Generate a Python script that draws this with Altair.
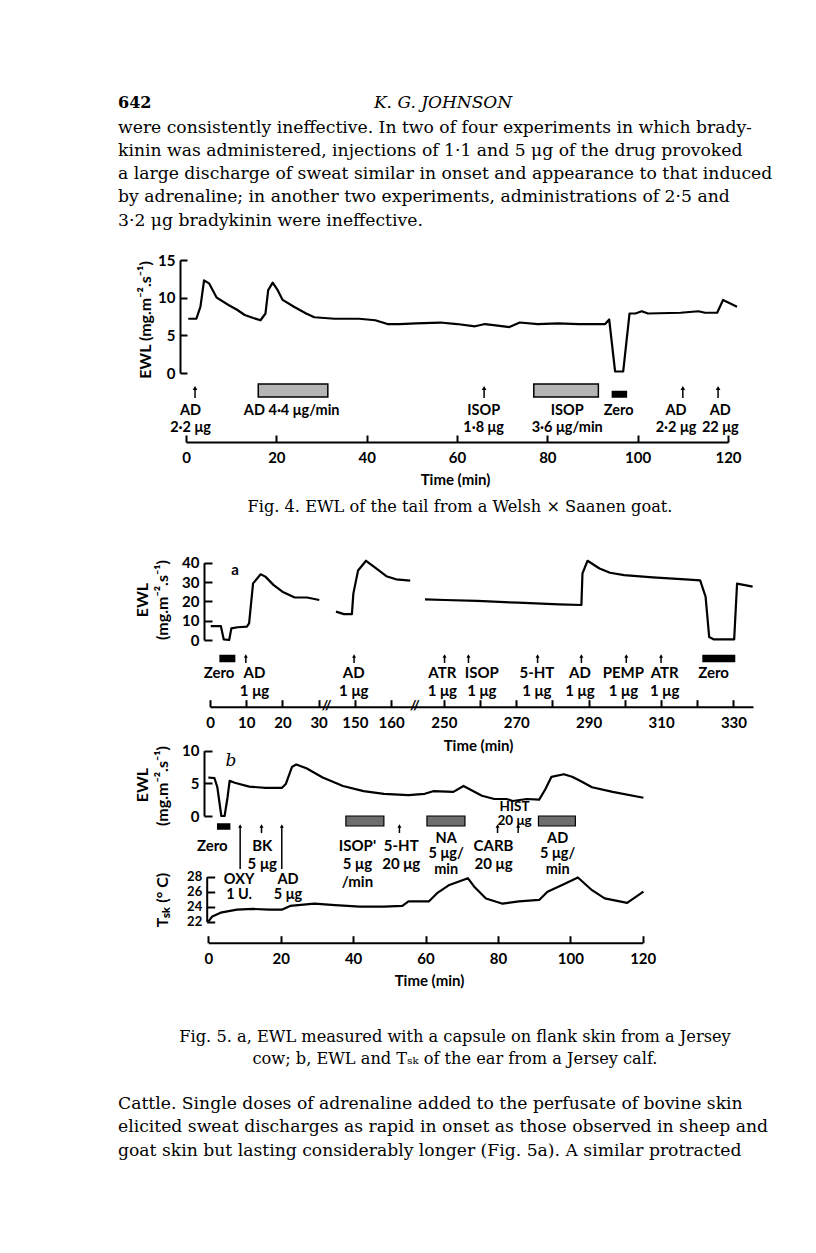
import altair as alt
import pandas as pd

# ---------------- text ----------------
page_number = "642"
running_head = "K. G. JOHNSON"
para_top = [
    "were consistently ineffective. In two of four experiments in which brady-",
    "kinin was administered, injections of 1·1 and 5 μg of the drug provoked",
    "a large discharge of sweat similar in onset and appearance to that induced",
    "by adrenaline; in another two experiments, administrations of 2·5 and",
    "3·2 μg bradykinin were ineffective.",
]
caption4 = ["Fig. 4. EWL of the tail from a Welsh × Saanen goat."]
caption5 = [
    "Fig. 5. a, EWL measured with a capsule on flank skin from a Jersey",
    "cow; b, EWL and Tₛₖ of the ear from a Jersey calf.",
]
para_bottom = [
    "\u2003Cattle. Single doses of adrenaline added to the perfusate of bovine skin",
    "elicited sweat discharges as rapid in onset as those observed in sheep and",
    "goat skin but lasting considerably longer (Fig. 5a). A similar protracted",
]

# ---------------- Fig. 4 data ----------------
f4_t = [0.5, 2.3, 3.2, 4.0, 5.1, 6.8, 9.5, 11.3, 13.0, 14.9, 16.5, 17.6, 18.2, 19.2,
        20.3, 21.4, 23.9, 26.6, 28.4, 32.9, 38.3, 41.9, 44.6, 47.3, 50.9, 56.3, 60.0,
        64.0, 66.2, 69.0, 71.6, 73.9, 77.9, 82.4, 86.9, 92.8, 93.7, 95.0, 96.8, 98.2,
        99.5, 100.9, 102.3, 109.5, 113.5, 114.9, 117.6, 118.9, 122.0]
f4_ewl = [7.2, 7.2, 8.8, 12.3, 11.9, 10.0, 9.0, 8.4, 7.7, 7.3, 7.0, 7.9, 11.0, 12.0,
          11.0, 9.7, 8.8, 7.9, 7.4, 7.2, 7.2, 7.0, 6.5, 6.5, 6.6, 6.7, 6.5,
          6.2, 6.5, 6.3, 6.1, 6.7, 6.5, 6.6, 6.5, 6.5, 7.1, 0.2, 0.2, 7.9,
          7.9, 8.2, 7.9, 8.0, 8.2, 8.0, 8.0, 9.7, 8.8]
f4_y_ticks = [0, 5, 10, 15]
f4_x_ticks = [0, 20, 40, 60, 80, 100, 120]
f4_arrow_t = [2.0, 66.0, 110.0, 117.8]
f4_label_t = [1.0, 23.4, 65.9, 84.4, 95.8, 108.5, 118.3]
f4_labels = ["AD\n2·2 μg", "AD 4·4 μg/min", "ISOP\n1·8 μg", "ISOP\n3·6 μg/min",
             "Zero", "AD\n2·2 μg", "AD\n22 μg"]
f4_bar_start = [16.0, 77.0]
f4_bar_end = [31.4, 91.3]
f4_zero_start = [94.4]
f4_zero_end = [97.5]

# ---------------- Fig. 5a data ----------------
f5a_seg = ["s1"] * 16 + ["s2"] * 10 + ["s3"] * 20
f5a_t = [0.2, 3.0, 3.8, 5.3, 5.9, 7.6, 10.2, 10.8, 11.9, 14.0, 15.3, 17.6, 20.0, 23.4, 26.8, 30.2,
         144.8, 147.0, 149.2, 149.6, 150.9, 153.1, 155.9, 158.7, 161.4, 165.3,
         244.8, 250.2, 259.2, 270.5, 281.8, 288.0, 288.3, 289.7, 293.0, 295.9, 299.8,
         307.7, 316.7, 320.8, 322.3, 323.3, 324.6, 330.2, 331.0, 335.3]
f5a_ewl = [7.2, 7.2, 0.3, 0.0, 6.0, 6.6, 6.9, 8.6, 29.3, 34.0, 32.8, 28.4, 25.0, 22.0, 22.0, 20.7,
           14.7, 13.4, 13.4, 24.0, 36.0, 41.0, 37.0, 33.0, 31.4, 30.7,
           21.0, 20.7, 20.2, 19.3, 18.4, 18.1, 34.5, 41.0, 37.0, 34.8, 33.6,
           32.4, 31.4, 30.9, 22.4, 1.5, 0.3, 0.3, 29.2, 27.6]
f5a_y_ticks = [0, 10, 20, 30, 40]
f5a_x_ticks = [0, 10, 20, 30, 150, 160, 250, 260, 270, 280, 290, 300, 310, 320, 330]
f5a_break_t = [142.2, 166.6]
f5a_arrow_t = [9.9, 149.8, 250.2, 256.8, 275.9, 288.0, 300.4, 310.0]
f5a_label_t = [2.5, 12.3, 149.7, 249.6, 260.5, 275.7, 287.6, 299.6, 311.0, 324.5]
f5a_labels = ["Zero", "AD\n1 μg", "AD\n1 μg", "ATR\n1 μg", "ISOP\n1 μg", "5-HT\n1 μg",
              "AD\n1 μg", "PEMP\n1 μg", "ATR\n1 μg", "Zero"]
f5a_zero_start = [2.8, 321.6]
f5a_zero_end = [6.8, 330.3]

# ---------------- Fig. 5b data ----------------
f5b_t = [0, 1.7, 2.5, 3.6, 4.5, 5.3, 5.9, 7.3, 11.3, 15.8, 20.3, 21.4, 23.1, 24.3, 27.1,
         31.6, 37.2, 42.9, 48.5, 55.3, 59.8, 62.1, 67.7, 70.5, 72.2, 75.6, 79.0, 82.4,
         84.1, 88.0, 91.4, 93.1, 94.8, 98.2, 100.5, 102.7, 106.0, 111.7, 120.2]
f5b_ewl = [5.9, 5.8, 4.4, 0.0, 0.0, 2.8, 5.4, 5.1, 4.5, 4.3, 4.3, 4.9, 7.5, 7.9, 7.3,
           5.9, 4.6, 3.8, 3.4, 3.2, 3.4, 3.8, 3.7, 4.6, 4.1, 3.1, 2.6, 2.6,
           2.3, 2.6, 2.5, 4.1, 6.0, 6.4, 6.0, 5.4, 4.4, 3.7, 2.8]
f5b_tsk_t = [0, 1.1, 3.4, 7.9, 12.4, 16.9, 20.3, 22.6, 29.3, 35.0, 41.8, 48.5, 53.6, 55.3,
             57.6, 60.9, 63.2, 66.6, 71.7, 73.4, 76.7, 81.3, 85.8, 91.4, 93.7, 98.2, 102.1,
             106.0, 109.5, 115.7, 120.2]
f5b_tsk = [22.0, 22.7, 23.2, 23.6, 23.7, 23.6, 23.6, 24.1, 24.4, 24.2, 24.0, 24.0, 24.1, 24.7,
           24.7, 24.7, 25.8, 26.9, 27.8, 26.7, 25.1, 24.4, 24.7, 24.9, 26.0, 27.0, 27.9,
           26.2, 25.1, 24.5, 26.0]
f5b_ewl_ticks = [0, 5, 10]
f5b_tsk_ticks = [22, 24, 26, 28]
f5b_x_ticks = [0, 20, 40, 60, 80, 100, 120]
f5b_short_arrow_t = [14.7, 52.8, 79.9, 85.6]
f5b_long_arrow_t = [8.8, 20.3]
f5b_bar_start = [38.0, 60.4, 91.2]
f5b_bar_end = [48.5, 70.9, 101.4]
f5b_zero_start = [2.6]
f5b_zero_end = [5.9]
f5b_rowA_t = [1.1, 14.9, 41.2, 53.3, 78.8]
f5b_rowA = ["Zero", "BK\n5 μg", "ISOP'\n5 μg\n/min", "5-HT\n20 μg", "CARB\n20 μg"]
f5b_rowB_t = [65.7, 96.5]
f5b_rowB = ["NA\n5 μg/\nmin", "AD\n5 μg/\nmin"]
f5b_rowC_t = [84.6]
f5b_rowC = ["HIST\n20 μg"]
f5b_rowD_t = [8.5, 22.0]
f5b_rowD = ["OXY\n1 U.", "AD\n5 μg"]

# ---------------- layout helpers ----------------
M = 8
W, H = 800, 1237
SANS = "Lato"
SERIF = "DejaVu Serif"
BODY = 17.2
CAP = 16.2


def P(v):
    return v - M


def sc(domain, rng):
    return alt.Scale(domain=domain, range=[P(r) for r in rng], nice=False, zero=False)


F4X = sc([0, 120], [186, 728])
F4Y = sc([0, 15], [373, 260])
F5AX = sc([0, 31, 141, 168, 244, 335.4], [210, 322.2, 322.2, 420, 422.1, 753])
F5AY = sc([0, 40], [640, 562.7])
F5BX = sc([0, 120], [208.3, 642.7])
F5BY = sc([0, 10], [816, 750.7])
F5BT = sc([22, 28], [921.7, 876.7])


def yaxis(values, axis_x, tick=7, gap=5, fs=15):
    return alt.Axis(orient="right", offset=P(axis_x) - W, values=values, title=None,
                    tickSize=tick, tickWidth=2, tickColor="black", domainWidth=2,
                    domainColor="black", labelAlign="right", labelBaseline="middle",
                    labelPadding=-(tick + gap), labelFont=SANS, labelFontSize=fs,
                    labelFontWeight="bold", labelColor="black", grid=False,
                    labelOverlap=False, labelFlush=False)


def xaxis(values, axis_y, title_x, title_y, tick=7, gap=8, expr=None):
    kw = dict(orient="top", offset=-P(axis_y), values=values, title="Time (min)",
              tickSize=tick, tickWidth=2, tickColor="black", domainWidth=2,
              domainColor="black", labelAlign="center", labelBaseline="top",
              labelPadding=-(tick + gap), labelFont=SANS, labelFontSize=15,
              labelFontWeight="bold", labelColor="black", grid=False,
              labelOverlap=False, labelFlush=False, titleX=P(title_x),
              titleY=title_y - axis_y, titleAlign="center", titleBaseline="middle",
              titleAngle=0, titleFont=SANS, titleFontSize=15, titleFontWeight="bold",
              titleColor="black")
    if expr:
        kw["labelExpr"] = expr
    return alt.Axis(**kw)


def curve(t, v, xs, ys, xax=None, yax=None, seg=None):
    d = {"t": t, "v": v}
    if seg is not None:
        d["seg"] = seg
    enc = dict(x=alt.X("t:Q", scale=xs, axis=xax), y=alt.Y("v:Q", scale=ys, axis=yax))
    if seg is not None:
        enc["detail"] = "seg:N"
    return alt.Chart(pd.DataFrame(d)).mark_line(
        color="black", strokeWidth=2.2, strokeJoin="round").encode(**enc)


def arrows(ts, xs, top, bottom, size=22):
    df = pd.DataFrame({"t": ts})
    x = alt.X("t:Q", scale=xs, axis=None)
    stem = alt.Chart(df).mark_rule(color="black", strokeWidth=1.5).encode(
        x=x, y=alt.value(P(top) + 2), y2=alt.value(P(bottom)))
    head = alt.Chart(df).mark_point(shape="triangle-up", filled=True, color="black",
                                    size=size, opacity=1).encode(x=x, y=alt.value(P(top) + 2))
    return [stem, head]


def bars(starts, ends, xs, top, bottom, fill, sw=1.5):
    df = pd.DataFrame({"s": starts, "e": ends})
    return alt.Chart(df).mark_rect(fill=fill, stroke="black", strokeWidth=sw).encode(
        x=alt.X("s:Q", scale=xs, axis=None), x2="e:Q",
        y=alt.value(P(top)), y2=alt.value(P(bottom)))


def labels(ts, texts, xs, top, fs=15, lh=18):
    df = pd.DataFrame({"t": ts, "label": texts})
    return alt.Chart(df).mark_text(font=SANS, fontSize=fs, fontWeight="bold",
                                   baseline="top", align="center", lineBreak="\n",
                                   lineHeight=lh, color="black").encode(
        x=alt.X("t:Q", scale=xs, axis=None), y=alt.value(P(top)), text="label:N")


def block(lines, x, y, fs, lh, align="left", font=SERIF, style="normal", weight="normal",
          angle=0, baseline="top"):
    df = pd.DataFrame({"txt": ["\n".join(lines)]})
    return alt.Chart(df).mark_text(font=font, fontSize=fs, lineBreak="\n", lineHeight=lh,
                                   align=align, baseline=baseline, color="black",
                                   fontStyle=style, fontWeight=weight, angle=angle).encode(
        x=alt.value(P(x)), y=alt.value(P(y)), text="txt:N")


layers = []

# page text
layers.append(block([page_number], 118, 103, 16, 20, baseline="middle", weight="bold"))
layers.append(block([running_head], 443, 103, 17, 20, align="center", style="italic",
                    baseline="middle"))
layers.append(block(para_top, 118, 118.5, BODY, 23.3))

# ---- Fig. 4 ----
layers.append(curve(f4_t, f4_ewl, F4X, F4Y,
                    xax=xaxis(f4_x_ticks, 442, 455, 479, gap=8),
                    yax=yaxis(f4_y_ticks, 180)))
layers.append(block(["EWL (mg.m⁻².s⁻¹)"], 146, 320, 16, 18, align="center", font=SANS,
                    weight="bold", angle=270, baseline="middle"))
layers.append(bars(f4_bar_start, f4_bar_end, F4X, 384, 397, "#b4b4b4"))
layers.append(bars(f4_zero_start, f4_zero_end, F4X, 391.5, 397, "black"))
layers += arrows(f4_arrow_t, F4X, 386, 398)
layers.append(labels(f4_label_t, f4_labels, F4X, 403.5, fs=14.5, lh=17))
layers.append(block(caption4, 460, 499, CAP, 20, align="center"))

# ---- Fig. 5a ----
layers.append(curve(f5a_t, f5a_ewl, F5AX, F5AY, seg=f5a_seg,
                    xax=xaxis(f5a_x_ticks, 706.7, 478, 745, gap=9,
                              expr="indexof([260, 280, 300, 320], datum.value) >= 0 ? '' : datum.label"),
                    yax=yaxis(f5a_y_ticks, 204, tick=8)))
layers.append(block(["EWL"], 143, 600, 16, 18, align="center", font=SANS, weight="bold",
                    angle=270, baseline="middle"))
layers.append(block(["(mg.m⁻².s⁻¹)"], 163, 600, 16, 18, align="center", font=SANS,
                    weight="bold", angle=270, baseline="middle"))
layers.append(block(["a"], 235, 570, 15, 16, align="center", font=SANS, weight="bold",
                    baseline="middle"))
layers.append(labels(f5a_break_t, ["//", "//"], F5AX, 699, fs=14, lh=14))
layers.append(bars(f5a_zero_start, f5a_zero_end, F5AX, 655.5, 661.5, "black"))
layers += arrows(f5a_arrow_t, F5AX, 654, 663, size=16)
layers.append(labels(f5a_label_t, f5a_labels, F5AX, 665.5, fs=15, lh=18.5))

# ---- Fig. 5b ----
layers.append(curve(f5b_t, f5b_ewl, F5BX, F5BY,
                    xax=xaxis(f5b_x_ticks, 942.7, 429, 980, gap=9),
                    yax=yaxis(f5b_ewl_ticks, 204, tick=8)))
layers.append(curve(f5b_tsk_t, f5b_tsk, F5BX, F5BT,
                    yax=yaxis(f5b_tsk_ticks, 206.7, tick=8, fs=13)))
layers.append(block(["EWL"], 143, 785, 16, 18, align="center", font=SANS, weight="bold",
                    angle=270, baseline="middle"))
layers.append(block(["(mg.m⁻².s⁻¹)"], 163, 786, 16, 18, align="center", font=SANS,
                    weight="bold", angle=270, baseline="middle"))
layers.append(block(["Tₛₖ (° C)"], 163, 900, 16, 18, align="center", font=SANS,
                    weight="bold", angle=270, baseline="middle"))
layers.append(block(["b"], 231, 761, 17, 18, align="center", style="italic",
                    baseline="middle"))
layers.append(bars(f5b_bar_start, f5b_bar_end, F5BX, 816, 826, "#6e6e6e", sw=1.2))
layers.append(bars(f5b_zero_start, f5b_zero_end, F5BX, 824, 829, "black"))
layers += arrows(f5b_short_arrow_t, F5BX, 824, 833, size=16)
layers += arrows(f5b_long_arrow_t, F5BX, 824, 869, size=16)
layers.append(labels(f5b_rowA_t, f5b_rowA, F5BX, 838.5, fs=15, lh=18))
layers.append(labels(f5b_rowB_t, f5b_rowB, F5BX, 831.5, fs=14.5, lh=15.5))
layers.append(labels(f5b_rowC_t, f5b_rowC, F5BX, 800, fs=13.5, lh=13.5))
layers.append(labels(f5b_rowD_t, f5b_rowD, F5BX, 872.5, fs=14.5, lh=15))

# captions and closing paragraph
layers.append(block(caption5, 455, 1029, CAP, 22, align="center"))
layers.append(block(para_bottom, 118, 1094.5, BODY, 23.5))

chart = alt.layer(*layers).properties(
    width=W, height=H, autosize="none", padding=0
).resolve_scale(x="independent", y="independent").configure_view(strokeWidth=0)

chart.save("out.html", embed_options={"renderer": "svg", "actions": False})
